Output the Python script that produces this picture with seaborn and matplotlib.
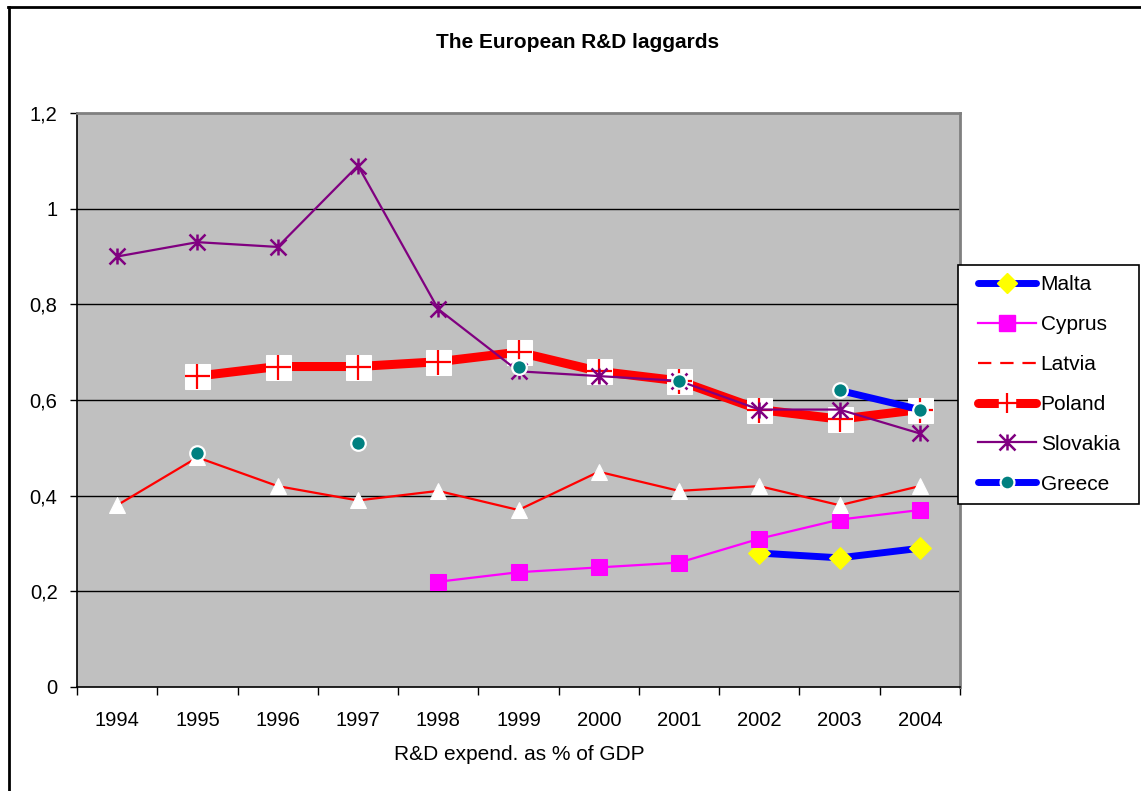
import numpy as np
import pandas as pd
import matplotlib
matplotlib.use("Agg")
import matplotlib.pyplot as plt
from matplotlib.lines import Line2D
from matplotlib.path import Path
from matplotlib.legend_handler import HandlerLine2D
import seaborn as sns

plt.rcParams['font.family'] = ['Liberation Sans', 'DejaVu Sans']

years = [1994, 1995, 1996, 1997, 1998, 1999, 2000, 2001, 2002, 2003, 2004]
nan = np.nan
malta = [nan, nan, nan, nan, nan, nan, nan, nan, 0.28, 0.27, 0.29]
cyprus = [nan, nan, nan, nan, 0.22, 0.24, 0.25, 0.26, 0.31, 0.35, 0.37]
latvia = [0.38, 0.48, 0.42, 0.39, 0.41, 0.37, 0.45, 0.41, 0.42, 0.38, 0.42]
poland = [nan, 0.65, 0.67, 0.67, 0.68, 0.70, 0.66, 0.64, 0.58, 0.56, 0.58]
slovakia = [0.90, 0.93, 0.92, 1.09, 0.79, 0.66, 0.65, 0.64, 0.58, 0.58, 0.53]
greece = [nan, 0.49, nan, 0.51, nan, 0.67, nan, 0.64, nan, 0.62, 0.58]
y_ticks = [0, 0.2, 0.4, 0.6, 0.8, 1.0, 1.2]
y_tick_labels = ["0", "0,2", "0,4", "0,6", "0,8", "1", "1,2"]

df = pd.DataFrame({"year": years, "Malta": malta, "Cyprus": cyprus, "Latvia": latvia,
                   "Poland": poland, "Slovakia": slovakia, "Greece": greece})

W, H = 1141, 791
fig = plt.figure(figsize=(W / 100, H / 100), dpi=100)
ax = fig.add_axes([77 / W, 1 - 687 / H, (960 - 77) / W, (687 - 113) / H])
ax.set_facecolor("#C0C0C0")

BLUE, MAG, RED, PUR, TEAL, YEL = "#0000FF", "#FF00FF", "#FF0000", "#800080", "#008080", "#FFFF00"
asterisk = Path([(0, -1), (0, 1), (-1, -1), (1, 1), (-1, 1), (1, -1)],
                [Path.MOVETO, Path.LINETO, Path.MOVETO, Path.LINETO, Path.MOVETO, Path.LINETO])

def segments(col):
    d = df[["year", col]].copy()
    grp = d[col].isna().cumsum()
    out = []
    for _, g in d.groupby(grp):
        g = g.dropna()
        if len(g) >= 2:
            out.append(g)
    return out

# Malta
sns.lineplot(data=df.dropna(subset=["Malta"]), x="year", y="Malta", ax=ax, color=BLUE, lw=5,
             marker="D", markersize=11.5, markerfacecolor=YEL, markeredgecolor=YEL, zorder=3)
# Cyprus
sns.lineplot(data=df.dropna(subset=["Cyprus"]), x="year", y="Cyprus", ax=ax, color=MAG, lw=1.6,
             marker="s", markersize=11.5, markerfacecolor=MAG, markeredgecolor=MAG, zorder=4)
# Latvia
sns.lineplot(data=df, x="year", y="Latvia", ax=ax, color=RED, lw=1.6,
             marker="^", markersize=11.5, markerfacecolor="white", markeredgecolor="white", zorder=5)
# Poland
sns.lineplot(data=df.dropna(subset=["Poland"]), x="year", y="Poland", ax=ax, color=RED, lw=6.5,
             marker="s", markersize=18, markerfacecolor="white", markeredgecolor="white", zorder=6)
sns.scatterplot(data=df.dropna(subset=["Poland"]), x="year", y="Poland", ax=ax, marker="+",
                s=18 ** 2, color=RED, linewidth=1.6, zorder=7)
# Slovakia
sns.lineplot(data=df, x="year", y="Slovakia", ax=ax, color=PUR, lw=1.6,
             marker=asterisk, markersize=11.5, markeredgewidth=1.8, markeredgecolor=PUR,
             markerfacecolor="none", zorder=8)
# Greece
for seg in segments("Greece"):
    sns.lineplot(data=seg, x="year", y="Greece", ax=ax, color=BLUE, lw=5, zorder=9)
sns.scatterplot(data=df.dropna(subset=["Greece"]), x="year", y="Greece", ax=ax, marker="o",
                s=10.5 ** 2, color=TEAL, edgecolor="white", linewidth=1.6, zorder=10)

# axes
ax.set_xlim(years[0] - 0.5, years[-1] + 0.5)
ax.set_ylim(0, 1.2)
ax.set_yticks(y_ticks)
ax.set_yticklabels(y_tick_labels, fontsize=14.5)
ax.set_xticks([y - 0.5 for y in years] + [years[-1] + 0.5])
ax.set_xticklabels([])
ax.set_xticks(years, minor=True)
ax.set_xticklabels([str(y) for y in years], minor=True, fontsize=14.5)
ax.tick_params(axis="x", which="major", length=6, width=1, direction="out", color="black")
ax.tick_params(axis="x", which="minor", length=0, pad=17)
ax.tick_params(axis="y", length=5, width=1, pad=9, color="black")
ax.set_xlabel("")
ax.set_ylabel("")
for yv in y_ticks[1:-1]:
    ax.axhline(yv, color="black", lw=1, zorder=1)
ax.spines["left"].set_color("black")
ax.spines["bottom"].set_color("black")
ax.spines["left"].set_linewidth(1.2)
ax.spines["bottom"].set_linewidth(1.2)
ax.spines["top"].set_color("#808080")
ax.spines["right"].set_color("#808080")
ax.spines["top"].set_linewidth(2)
ax.spines["right"].set_linewidth(2)

fig.text(577.5 / W, 1 - 43 / H, "The European R&D laggards", ha="center", va="center",
         fontsize=15, fontweight="bold")
fig.text(519 / W, 1 - 755 / H, "R&D expend. as % of GDP", ha="center", va="center", fontsize=15)


class ShiftHandler(HandlerLine2D):
    def create_artists(self, legend, orig_handle, xdescent, ydescent, width, height, fontsize, trans):
        shift = 0.45 * fontsize
        return super().create_artists(legend, orig_handle, xdescent - shift, ydescent,
                                      width - shift, height, fontsize, trans)


# legend
h_malta = Line2D([], [], color=BLUE, lw=5, marker="D", markersize=10.5, markerfacecolor=YEL,
                 markeredgecolor=YEL, solid_capstyle="round")
h_cyprus = Line2D([], [], color=MAG, lw=1.6, marker="s", markersize=11.5, markerfacecolor=MAG,
                  markeredgecolor=MAG)
h_latvia = Line2D([], [], color=RED, lw=1.6, linestyle=(0, (6, 4)))
h_poland = (Line2D([], [], color=RED, lw=6.5, marker="s", markersize=12, markerfacecolor="white",
                   markeredgecolor="white", solid_capstyle="round"),
            Line2D([], [], color=RED, lw=0, marker="+", markersize=15, markeredgewidth=1.6))
h_slovakia = Line2D([], [], color=PUR, lw=1.6, marker=asterisk, markersize=11.5,
                    markeredgewidth=1.8, markerfacecolor="none")
h_greece = Line2D([], [], color=BLUE, lw=5, marker="o", markersize=10, markerfacecolor=TEAL,
                  markeredgecolor="white", markeredgewidth=1.6, solid_capstyle="round")
leg = fig.legend([h_malta, h_cyprus, h_latvia, h_poland, h_slovakia, h_greece],
                 ["Malta", "Cyprus", "Latvia", "Poland", "Slovakia", "Greece"],
                 loc="upper left", bbox_to_anchor=(958 / W, 1 - 500 / H, 181 / W, 235 / H),
                 mode="expand", fontsize=15,
                 frameon=True, fancybox=False, edgecolor="black", framealpha=1,
                 handlelength=3.22, handletextpad=0.25, labelspacing=1.0,
                 borderpad=0.5, borderaxespad=0,
                 handler_map={Line2D: ShiftHandler()})
leg.get_frame().set_linewidth(1.2)

# outer border
fig.add_artist(Line2D([9 / W, 9 / W], [0, 1 - 7 / H], transform=fig.transFigure, color="black", lw=2))
fig.add_artist(Line2D([8 / W, 1], [1 - 7 / H, 1 - 7 / H], transform=fig.transFigure, color="black", lw=2))

fig.savefig("out.png", dpi=100)
